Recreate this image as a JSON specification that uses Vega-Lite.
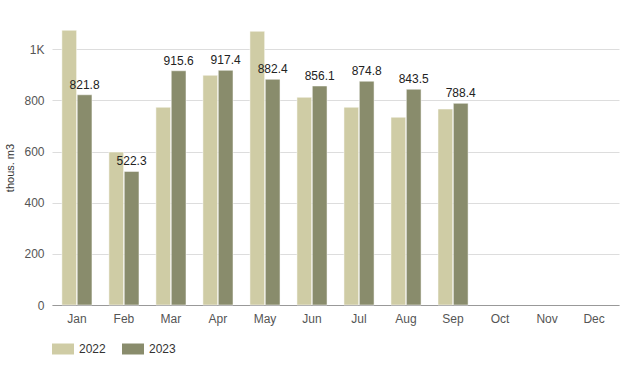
{
  "$schema": "https://vega.github.io/schema/vega-lite/v6.json",
  "width": 567,
  "height": 275,
  "autosize": {"type": "none"},
  "padding": {"left": 52, "top": 30, "right": 5, "bottom": 67},
  "background": "white",
  "config": {
    "font": "Liberation Sans",
    "view": {"stroke": null},
    "axis": {"labelFont": "Liberation Sans", "titleFont": "Liberation Sans"}
  },
  "data": {
    "values": [
      {"month": "Jan", "year": "2022", "value": 1074},
      {"month": "Feb", "year": "2022", "value": 598},
      {"month": "Mar", "year": "2022", "value": 773},
      {"month": "Apr", "year": "2022", "value": 898},
      {"month": "May", "year": "2022", "value": 1070},
      {"month": "Jun", "year": "2022", "value": 812},
      {"month": "Jul", "year": "2022", "value": 773},
      {"month": "Aug", "year": "2022", "value": 734},
      {"month": "Sep", "year": "2022", "value": 766},
      {"month": "Jan", "year": "2023", "value": 821.8},
      {"month": "Feb", "year": "2023", "value": 522.3},
      {"month": "Mar", "year": "2023", "value": 915.6},
      {"month": "Apr", "year": "2023", "value": 917.4},
      {"month": "May", "year": "2023", "value": 882.4},
      {"month": "Jun", "year": "2023", "value": 856.1},
      {"month": "Jul", "year": "2023", "value": 874.8},
      {"month": "Aug", "year": "2023", "value": 843.5},
      {"month": "Sep", "year": "2023", "value": 788.4}
    ]
  },
  "encoding": {
    "x": {
      "field": "month",
      "type": "nominal",
      "sort": ["Jan","Feb","Mar","Apr","May","Jun","Jul","Aug","Sep","Oct","Nov","Dec"],
      "scale": {"domain": ["Jan","Feb","Mar","Apr","May","Jun","Jul","Aug","Sep","Oct","Nov","Dec"], "paddingInner": 0.36, "paddingOuter": 0.21},
      "axis": {"title": null, "labelAngle": 0, "ticks": false, "domainColor": "#999999", "labelColor": "#555555", "labelFontSize": 12, "labelPadding": 8}
    },
    "xOffset": {"field": "year", "type": "nominal", "scale": {"paddingInner": 0.04}},
    "y": {
      "field": "value",
      "type": "quantitative",
      "scale": {"domain": [0, 1075], "nice": false},
      "axis": {
        "title": "thous. m3",
        "titleFontWeight": "normal",
        "titleFontSize": 11,
        "titleColor": "#333333",
        "titleX": -37,
        "values": [0, 200, 400, 600, 800, 1000],
        "labelExpr": "datum.value >= 1000 ? format(datum.value/1000, '~g') + 'K' : datum.label",
        "domain": false,
        "ticks": false,
        "gridColor": "#dddddd",
        "labelColor": "#555555",
        "labelFontSize": 12,
        "labelPadding": 8
      }
    }
  },
  "layer": [
    {
      "mark": {"type": "bar", "stroke": "white", "strokeWidth": 0.5},
      "encoding": {
        "color": {
          "field": "year",
          "type": "nominal",
          "scale": {"domain": ["2022", "2023"], "range": ["#cfcca5", "#898c6c"]},
          "legend": {
            "title": null,
            "orient": "none",
            "legendX": 0,
            "legendY": 308,
            "direction": "horizontal",
            "symbolType": "M-1,-0.5H1V0.5H-1Z",
            "symbolSize": 484,
            "symbolStrokeWidth": 0,
            "labelFontSize": 12,
            "labelColor": "#333333",
            "labelOffset": 5,
            "columnPadding": 16
          }
        }
      }
    },
    {
      "transform": [{"filter": "datum.year == '2023'"}],
      "mark": {"type": "text", "baseline": "bottom", "dy": -3, "fontSize": 12, "color": "#222222"},
      "encoding": {
        "text": {"field": "value", "type": "quantitative", "format": ".1f"}
      }
    }
  ]
}
